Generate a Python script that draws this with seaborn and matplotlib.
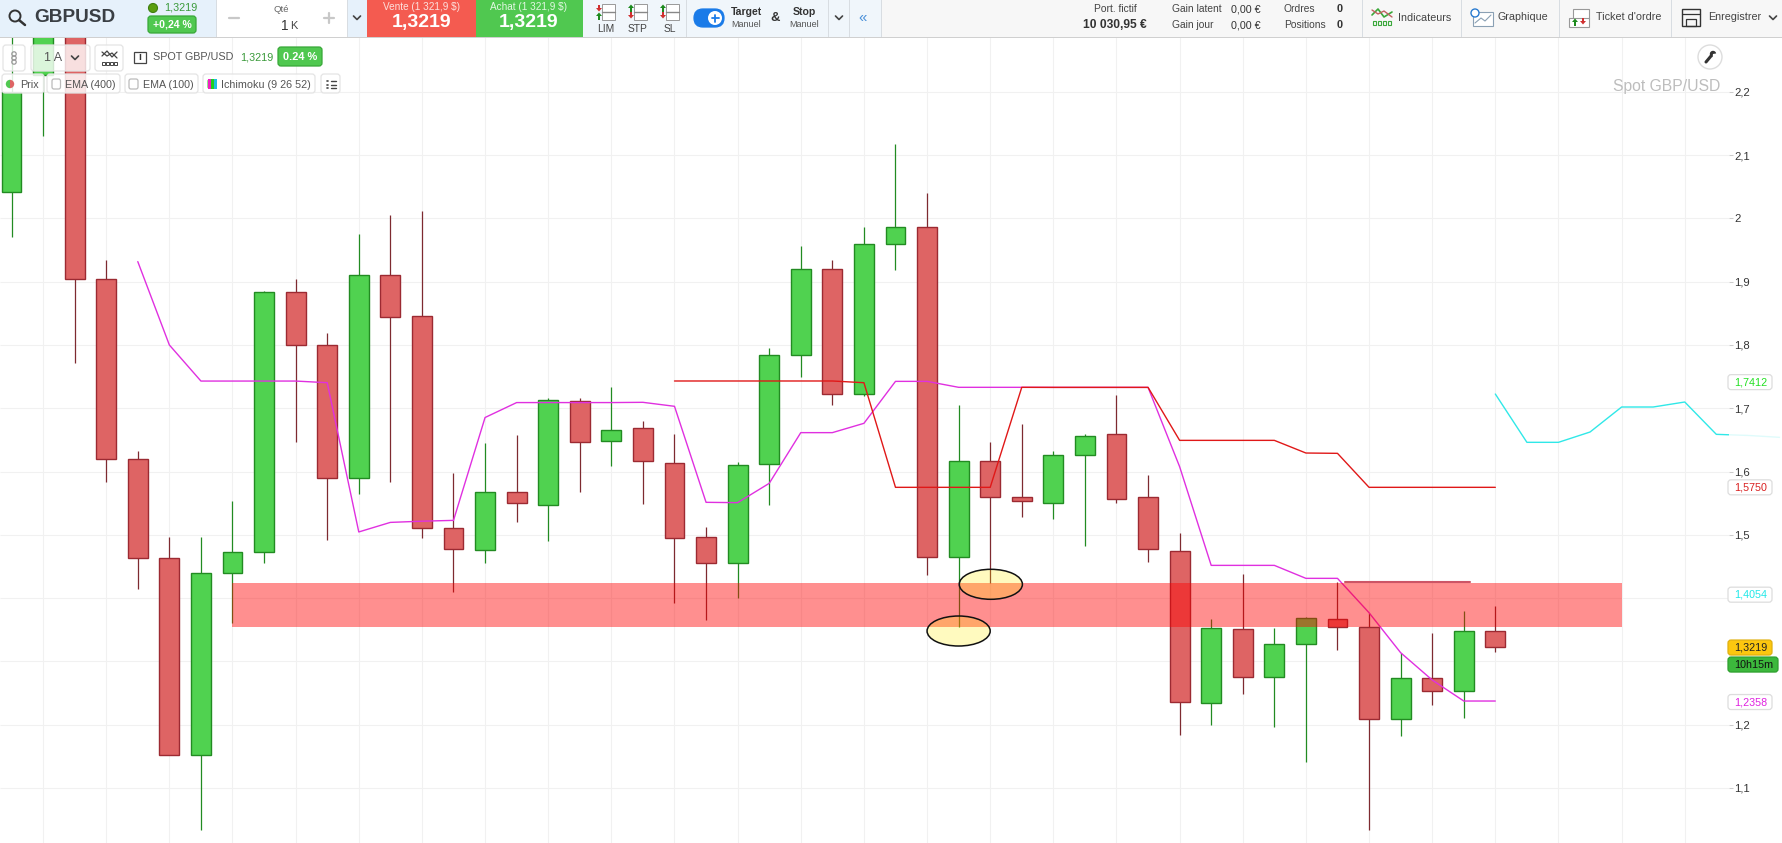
import numpy as np
import matplotlib
matplotlib.use("Agg")
import matplotlib.pyplot as plt
from matplotlib.patches import FancyBboxPatch, Rectangle, Ellipse, Circle, Polygon, Wedge
import seaborn as sns

# candles, values (first three go under the toolbar)
opens = [2.0416, 2.226, 2.45, 1.9034, 1.6191, 1.4626, 1.1520, 1.4390, 1.4724, 1.8831, 1.7992, 1.5890,
         1.9099, 1.8451, 1.5104, 1.4757, 1.5674, 1.5464, 1.7108, 1.6477, 1.6682, 1.6129, 1.4960, 1.4549,
         1.6113, 1.7835, 1.9194, 1.7230, 1.9589, 1.9857, 1.4644, 1.6161, 1.5592, 1.5507, 1.6266, 1.6587,
         1.5592, 1.4738, 1.2337, 1.3506, 1.2748, 1.3269, 1.3664, 1.3538, 1.2084, 1.2732, 1.2527, 1.3475]
closes = [2.20, 2.45, 1.9034, 1.6191, 1.4626, 1.1520, 1.4390, 1.4724, 1.8831, 1.7992, 1.5890, 1.9099,
          1.8444, 1.5104, 1.4770, 1.5674, 1.5510, 1.7128, 1.6473, 1.6650, 1.6161, 1.4944, 1.4549, 1.6098,
          1.7835, 1.9194, 1.7230, 1.9589, 1.9857, 1.4644, 1.6161, 1.5592, 1.5529, 1.6255, 1.6555, 1.5570,
          1.4781, 1.2353, 1.3522, 1.2748, 1.3269, 1.3680, 1.3538, 1.2084, 1.2732, 1.2527, 1.3475, 1.3222]
highs = [2.40, 2.50, 2.50, 1.9342, 1.6322, 1.4973, 1.4973, 1.5530, 1.8850, 1.9047, 1.8182, 1.9754,
         2.0049, 2.0108, 1.5969, 1.6447, 1.6578, 1.7167, 1.7154, 1.7335, 1.6793, 1.6592, 1.5123, 1.6145,
         1.7946, 1.9563, 1.9341, 1.9863, 2.1174, 2.0395, 1.7051, 1.6466, 1.6750, 1.6324, 1.6592, 1.7208,
         1.5944, 1.5023, 1.3664, 1.4380, 1.3522, 1.3706, 1.4254, 1.3769, 1.3138, 1.3443, 1.3796, 1.3875]
lows = [1.9702, 2.1293, 1.7717, 1.5838, 1.4148, 1.1520, 1.0336, 1.3611, 1.4547, 1.6473, 1.4921, 1.5648,
        1.5838, 1.4954, 1.4089, 1.4560, 1.5209, 1.4907, 1.5680, 1.6092, 1.5492, 1.3930, 1.3660, 1.4000,
        1.5476, 1.7498, 1.7056, 1.7193, 1.9183, 1.4370, 1.3540, 1.4233, 1.5287, 1.5249, 1.4823, 1.5507,
        1.4575, 1.1842, 1.2000, 1.2490, 1.1969, 1.1410, 1.3180, 1.0336, 1.1826, 1.2316, 1.2111, 1.3153]

# ichimoku lines
magenta_start = 4
magenta_line = [1.9316, 1.7999, 1.7429, 1.7429, 1.7429, 1.7429, 1.7403, 1.5045, 1.5196, 1.5215, 1.5228,
                1.6853, 1.7089, 1.7089, 1.7089, 1.7089, 1.7093, 1.7030, 1.5513, 1.5508, 1.5813, 1.6614,
                1.6614, 1.6761, 1.7424, 1.7424, 1.7330, 1.7330, 1.7330, 1.7329, 1.7329, 1.7329, 1.7329,
                1.6076, 1.4517, 1.4517, 1.4517, 1.4312, 1.4312, 1.3769, 1.3138, 1.2706, 1.2374, 1.2374]
red_start = 21
red_line = [1.7430, 1.7430, 1.7430, 1.7430, 1.7430, 1.7430, 1.7403, 1.5750, 1.5750, 1.5750, 1.5750,
            1.7330, 1.7329, 1.7329, 1.7329, 1.7329, 1.6492, 1.6492, 1.6492, 1.6492, 1.6292, 1.6287,
            1.5750, 1.5750, 1.5750, 1.5750, 1.5750]
cyan_start = 47
cyan_line = [1.7224, 1.6461, 1.6461, 1.6624, 1.7019, 1.7019, 1.7098, 1.6587, 1.6570, 1.6540]

# drawn annotations
short_x = [42.24, 46.2]
short_y = [1.4254, 1.4254]
zone_x = [7.0, 51.0]
zone_low, zone_high = 1.3539, 1.4243
ellipse_x = [31.02, 30.0]
ellipse_y = [1.4218, 1.3480]

# 1,3 and 1,4 sit behind the price labels in the original, so they are left empty
y_ticks = [1.1, 1.2, 1.3, 1.4, 1.5, 1.6, 1.7, 1.8, 1.9, 2.0, 2.1, 2.2]
y_tick_labels = ['1,1', '1,2', '', '', '1,5', '1,6', '1,7', '1,8', '1,9', '2', '2,1', '2,2']
price_labels = ['1,7412', '1,5750', '1,4054', '1,2358']
price_values = [1.7412, 1.5750, 1.4054, 1.2358]
price_colors = ['#22E022', '#D92020', '#20E8E8', '#E020E0']

sns.set_theme(style="white")
plt.rcParams['font.family'] = ['Liberation Sans', 'DejaVu Sans']

fig = plt.figure(figsize=(17.82, 8.43), dpi=100)
ax = fig.add_axes([0, 0, 1, 1])
ax.set_xlim(-0.3643, 56.08)
ax.set_ylim(1.0131, 2.3449)
for s in ax.spines.values():
    s.set_visible(False)

# grid stops where the price axis starts
grid_end = 54.41
ax.hlines(y_ticks, -0.3643, grid_end, colors='#f1f1f1', linewidth=0.75, zorder=1)
ax.vlines(np.arange(1, 54, 2), 1.0131, 2.3449, colors='#f1f1f1', linewidth=0.75, zorder=1)

# candles
opens_a, closes_a = np.array(opens), np.array(closes)
highs_a, lows_a = np.array(highs), np.array(lows)
idx = np.arange(len(opens))
up = closes_a >= opens_a
ax.vlines(idx[up], lows_a[up], highs_a[up], colors='#228B22', linewidth=0.9, zorder=2)
ax.vlines(idx[~up], lows_a[~up], highs_a[~up], colors='#7E2A30', linewidth=0.9, zorder=2)
ax.bar(idx[up], closes_a[up] - opens_a[up], bottom=opens_a[up], width=0.63, color='#50D250',
       edgecolor='#228B22', linewidth=1.0, zorder=2.2)
ax.bar(idx[~up], opens_a[~up] - closes_a[~up], bottom=closes_a[~up], width=0.63, color='#DE6464',
       edgecolor='#9C2A32', linewidth=1.0, zorder=2.2)

# lines
sns.lineplot(x=np.arange(magenta_start, magenta_start + len(magenta_line)), y=magenta_line, color='#E030E0',
             linewidth=1.0, estimator=None, sort=False, ax=ax, zorder=3)
sns.lineplot(x=np.arange(red_start, red_start + len(red_line)), y=red_line, color='#E01818',
             linewidth=1.0, estimator=None, sort=False, ax=ax, zorder=3.1)
sns.lineplot(x=np.arange(cyan_start, cyan_start + len(cyan_line)), y=cyan_line, color='#30E8E8',
             linewidth=1.0, estimator=None, sort=False, ax=ax, zorder=3)
sns.lineplot(x=short_x, y=short_y, color='#CC5566', linewidth=1.5, estimator=None, sort=False, ax=ax, zorder=3)

# support zone and the two yellow ellipses on top
ax.fill_between(zone_x, zone_low, zone_high, color='#ff0000', alpha=0.44, linewidth=0, zorder=4)
for ex, ey in zip(ellipse_x, ellipse_y):
    ax.add_patch(Ellipse((ex, ey), 2.0, 0.0474, facecolor=(1, 0.925, 0, 0.25), edgecolor='#111111',
                         linewidth=1.1, zorder=5))

# price axis pane
ax.add_patch(Rectangle((grid_end, 1.0131), 56.08 - grid_end, 1.3318, facecolor='white', alpha=0.85,
                       linewidth=0, zorder=6))
ax.hlines(y_ticks, grid_end, grid_end + 0.12, colors='#cccccc', linewidth=0.75, zorder=7)
ax.yaxis.set_zorder(8)
ax.set_yticks(y_ticks)
ax.set_yticklabels(y_tick_labels)
ax.set_xticks([])
ax.tick_params(axis='y', left=False, right=False, labelleft=False, labelright=True, pad=-34.6,
               labelsize=8.1, labelcolor='#333333', length=0)
ax.set_xlabel('')
ax.set_ylabel('')

# ---- interface drawn in pixel coordinates ----
ui = fig.add_axes([0, 0, 1, 1], facecolor='none')
ui.set_xlim(0, 1782)
ui.set_ylim(843, 0)
ui.axis('off')


def rect(x0, y0, x1, y1, fc, z=1):
    ui.add_patch(Rectangle((x0, y0), x1 - x0, y1 - y0, facecolor=fc, edgecolor='none', linewidth=0, zorder=z))


def chip(x0, y0, x1, y1, fc='white', ec='#e4e4e4', alpha=0.85, r=3, z=2):
    ui.add_patch(FancyBboxPatch((x0, y0), x1 - x0, y1 - y0, boxstyle=f"round,pad=0,rounding_size={r}",
                                facecolor=matplotlib.colors.to_rgba(fc, alpha), edgecolor=ec, linewidth=0.9,
                                zorder=z))


def txt(x, y, s, px, color='#444444', ha='left', weight='normal'):
    ui.text(x, y, s, fontsize=px * 0.72, color=color, ha=ha, va='center', fontweight=weight, parse_math=False,
            zorder=5)


def line(xs, ys, color='#444444', lw=1.0, z=4):
    ui.plot(xs, ys, color=color, linewidth=lw, zorder=z, solid_capstyle='round')


def chevron(x, y, color='#444444'):
    line([x - 3.5, x, x + 3.5], [y - 2, y + 1.5, y - 2], color, 1.2)


def arrow(x, y, color, pointing_up):
    d = -1 if pointing_up else 1
    ui.add_patch(Polygon([(x - 3, y), (x + 3, y), (x, y + 3.5 * d)], facecolor=color, edgecolor='none', zorder=4))
    rect(x - 1, y if pointing_up else y - 3.5, x + 1, y + 3.5 if pointing_up else y, color, 4)


# toolbar background
rect(0, 0, 1782, 37, '#f7f7f7')
rect(0, 0, 216, 37, '#e6f1fb')
rect(216, 0, 347, 37, 'white')
rect(347, 0, 367, 37, '#e6f1fb')
rect(367, 0, 476, 37, '#f45b50')
rect(476, 0, 583, 37, '#50c850')
rect(583, 0, 881, 37, '#f0f6fb')
rect(0, 37, 1782, 38, '#d0d0d0', 3)
for sx in [216, 347, 686, 828, 849, 881, 1362, 1461, 1559, 1671]:
    rect(sx, 0, sx + 1, 37, '#d8dde2', 3)

# symbol block
ui.add_patch(Circle((15, 16), 5.5, facecolor='none', edgecolor='#333333', linewidth=1.4, zorder=4))
line([19, 25], [20, 25], '#333333', 1.8)
txt(34, 18, 'GBPUSD', 19, '#3a3f44', weight='bold')
ui.add_patch(Circle((153, 8), 4.5, facecolor='#5a9e10', edgecolor='#3f7f10', linewidth=0.8, zorder=4))
txt(164, 8, '1,3219', 10.7, '#3a9a3a')
chip(148, 16, 196, 33, '#50c850', '#38a838', 1, 3)
txt(172, 24.5, '+0,24 %', 10.5, 'white', 'center', 'bold')

# quantity
txt(281, 10, 'Qté', 9.5, '#666666', 'center')
txt(288, 26, '1', 13.5, '#333333', 'right')
txt(290, 26, 'K', 11, '#444444')
line([229, 239], [18, 18], '#c8c8c8', 1.6)
line([324, 334], [18, 18], '#c8c8c8', 1.6)
line([329, 329], [13, 23], '#c8c8c8', 1.6)
chevron(357, 18)

# sell / buy
txt(421.5, 7, 'Vente (1 321,9 $)', 10, '#fde0dc', 'center')
txt(421.5, 23, '1,3219', 19.5, 'white', 'center', 'bold')
txt(529, 7, 'Achat (1 321,9 $)', 10, '#e2f8e2', 'center')
txt(529, 23, '1,3219', 19.5, 'white', 'center', 'bold')

# order type buttons
for bx, label, first_up in [(606, 'LIM', False), (638, 'STP', True), (670, 'SL', True)]:
    rect(bx - 4, 4, bx + 9, 20, 'white', 3)
    ui.add_patch(Rectangle((bx - 4, 4), 13, 16, facecolor='none', edgecolor='#999999', linewidth=0.7, zorder=3))
    line([bx - 4, bx + 9], [12, 12], '#888888', 1.0)
    if first_up:
        arrow(bx - 7, 8, '#1d8a1d', True)
        arrow(bx - 7, 15, '#d03030', False)
    else:
        arrow(bx - 7, 8, '#d03030', False)
        arrow(bx - 7, 16, '#1d8a1d', True)
    txt(bx, 29, label, 10.3, '#444444', 'center')

# target / stop toggle
chip(694, 9, 724, 27, '#1a7be8', '#1a7be8', 1, 9)
ui.add_patch(Circle((715, 18), 7, facecolor='white', edgecolor='none', zorder=4))
line([711.5, 718.5], [18, 18], '#1a7be8', 1.3, 5)
line([715, 715], [14.5, 21.5], '#1a7be8', 1.3, 5)
txt(731, 12, 'Target', 10.5, '#333333', weight='bold')
txt(731, 24.5, 'Manuel', 9, '#555555')
txt(775, 18, '&', 13, '#333333', 'center', 'bold')
txt(804, 12, 'Stop', 10.5, '#333333', 'center', 'bold')
txt(804, 24.5, 'Manuel', 9, '#555555', 'center')
chevron(839, 18)
txt(863, 18, '«', 15, '#4a90d9', 'center')

# account figures
txt(1115, 9, 'Port. fictif', 10.3, '#444444', 'center')
txt(1115, 25, '10 030,95 €', 12, '#333333', 'center', 'bold')
txt(1172, 9, 'Gain latent', 10.3)
txt(1172, 25, 'Gain jour', 10.3)
txt(1231, 9, '0,00 €', 10.8, '#333333')
txt(1231, 25, '0,00 €', 10.8, '#333333')
txt(1284, 9, 'Ordres', 10.3)
txt(1284, 25, 'Positions', 10.3)
txt(1337, 9, '0', 11, '#333333', 'left', 'bold')
txt(1337, 25, '0', 11, '#333333', 'left', 'bold')

# right hand buttons
line([1372, 1378, 1384, 1392], [15, 9, 17, 12], '#3aa83a', 1.2)
line([1372, 1378, 1384, 1392], [10, 14, 11, 17], '#c06060', 1.0)
for bx in [1373, 1378, 1383, 1388]:
    ui.add_patch(Rectangle((bx, 21), 3, 4, facecolor='none', edgecolor='#3aa83a', linewidth=0.8, zorder=4))
txt(1398, 18, 'Indicateurs', 10.8)
ui.add_patch(Rectangle((1473, 12), 20, 14, facecolor='white', edgecolor='#8aa0b4', linewidth=0.8, zorder=4))
line([1475, 1481, 1485, 1491], [23, 18, 21, 15], '#8aa0b4', 0.8, 5)
ui.add_patch(Circle((1475, 13), 4, facecolor='white', edgecolor='#2a7bd0', linewidth=1.0, zorder=5))
txt(1498, 17, 'Graphique', 10.8)
ui.add_patch(Rectangle((1573, 9), 16, 10, facecolor='white', edgecolor='#999999', linewidth=0.8, zorder=4))
ui.add_patch(Rectangle((1569, 18), 20, 9, facecolor='white', edgecolor='#999999', linewidth=0.8, zorder=4))
arrow(1575, 22, '#1d8a1d', True)
arrow(1583, 21, '#d03030', False)
txt(1596, 17, "Ticket d'ordre", 10.8)
ui.add_patch(Rectangle((1682, 9), 18, 17, facecolor='none', edgecolor='#333333', linewidth=1.0, zorder=4))
ui.add_patch(Rectangle((1686, 19), 10, 7, facecolor='none', edgecolor='#333333', linewidth=0.9, zorder=4))
line([1682, 1700], [14, 14], '#333333', 0.9)
txt(1708, 17, 'Enregistrer', 10.8)
chevron(1773, 18)

# chart header, row one
chip(3, 45, 25, 71, alpha=0.8)
for cy in [54, 58, 62]:
    ui.add_patch(Circle((14, cy), 2.2, facecolor='none', edgecolor='#999999', linewidth=0.9, zorder=4))
chip(31, 45, 90, 71, alpha=0.8)
txt(53, 58, '1 A', 12.5, '#555555', 'center')
chevron(75, 58)
chip(95, 45, 123, 71, alpha=0.8)
line([102, 107, 112, 117], [56, 51, 57, 52], '#444444', 0.9)
line([102, 107, 112, 117], [52, 56, 53, 58], '#444444', 0.9)
for bx in [102, 106, 110, 114]:
    ui.add_patch(Rectangle((bx, 62), 2.5, 3, facecolor='none', edgecolor='#444444', linewidth=0.7, zorder=4))
ui.add_patch(Rectangle((134, 52), 12, 11, facecolor='white', edgecolor='#444444', linewidth=0.9, zorder=4))
txt(140, 57.5, 'i', 10, '#333333', 'center', 'bold')
txt(153, 57, 'SPOT GBP/USD', 10.7, '#555555')
txt(240, 57, '1,3219', 10.7, '#3a9a3a')
chip(278, 47, 322, 66, '#50c850', '#38a838', 1, 3)
txt(300, 56.8, '0.24 %', 11, 'white', 'center', 'bold')

# wrench and instrument name
ui.add_patch(Circle((1710, 57), 12, facecolor='white', edgecolor='#dddddd', linewidth=1.0, zorder=2))
line([1706, 1711], [62, 56], '#333333', 2.2)
ui.add_patch(Wedge((1713, 54), 3.2, 100, 350, facecolor='#333333', edgecolor='none', zorder=4))
txt(1613, 87, 'Spot GBP/USD', 15.8, '#bdbdbd')

# chart header, row two
chip(2, 74, 44, 93)
ui.add_patch(Wedge((10, 84), 4.2, 90, 270, facecolor='#50c850', edgecolor='none', zorder=4))
ui.add_patch(Wedge((10, 84), 4.2, 270, 90, facecolor='#de6464', edgecolor='none', zorder=4))
txt(20, 84.5, 'Prix', 10.7, '#555555')
chip(47, 74, 120, 93)
chip(52, 79, 60.5, 89, ec='#bbbbbb', alpha=1, r=2, z=3)
txt(65, 84.5, 'EMA (400)', 10.7, '#555555')
chip(125, 74, 198, 93)
chip(129, 79, 138, 89, ec='#bbbbbb', alpha=1, r=2, z=3)
txt(143, 84.5, 'EMA (100)', 10.7, '#555555')
chip(203, 74, 315, 93)
chip(207.5, 79, 216.5, 89, fc='#20d020', ec='none', alpha=1, r=2, z=3)
rect(207.5, 79, 210.5, 89, '#f020c0', 4)
rect(213.5, 79, 216.5, 89, '#20c0e0', 4)
txt(221, 84.5, 'Ichimoku (9 26 52)', 10.7, '#555555')
chip(321, 74, 340, 93)
for ly in [81, 84.5, 88]:
    line([331, 336], [ly, ly], '#444444', 1.0)
    line([327, 328], [ly, ly], '#444444', 1.2)

# price labels on the axis, y taken from the same scale as the chart
to_px = lambda p: 843 * (2.3449 - p) / (2.3449 - 1.0131)
for lab, val, col in zip(price_labels, price_values, price_colors):
    py = to_px(val)
    chip(1728, py - 7.5, 1772, py + 7.5, 'white', '#dddddd', 1, 3)
    txt(1734, py, lab, 10.8, col)
py = to_px(1.3219)
chip(1728, py - 7.5, 1772, py + 7.5, '#fcc70f', '#e0b010', 1, 3)
txt(1734, py, '1,3219', 10.8, '#222222')
chip(1728, py + 9.5, 1778, py + 24.5, '#3cb83c', '#2ea02e', 1, 3)
txt(1734, py + 17, '10h15m', 10.8, '#111111')

fig.savefig('out.png', dpi=100)
